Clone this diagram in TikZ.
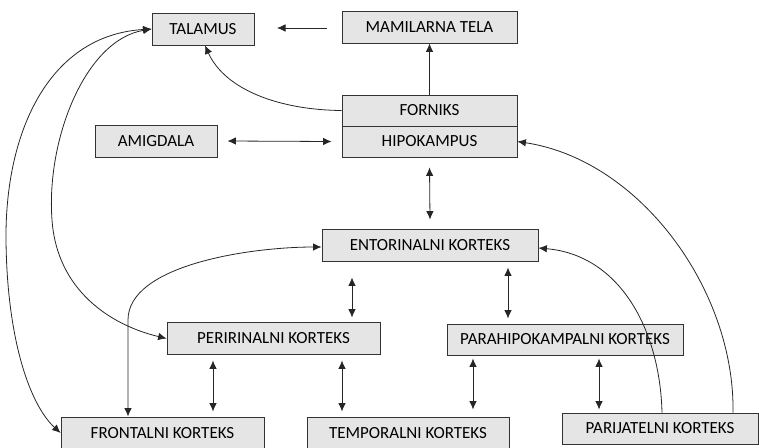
\documentclass[tikz,border=0pt]{standalone}
\usepackage{fontspec}
\setmainfont{Carlito}
\usetikzlibrary{arrows.meta}
\begin{document}
\begin{tikzpicture}[x=1pt,y=-1pt,
  box/.style={draw=black!80, fill=black!10, line width=0.8pt, minimum height=32pt, inner sep=0pt, font=\fontsize{17}{19}\selectfont},
  conn/.style={line width=0.8pt, draw=black!85},
  tip/.style={-{Latex[length=8.5pt,width=7.5pt]}},
  btip/.style={{Latex[length=8.5pt,width=7.5pt]}-{Latex[length=8.5pt,width=7.5pt]}}]
\useasboundingbox (0,0) rectangle (759,447);
\node[box, minimum width=102pt] (tal) at (203,29) {TALAMUS};
\node[box, minimum width=175pt] (mam) at (429.5,27) {MAMILARNA TELA};
\node[box, minimum width=175pt, minimum height=31pt] (for) at (429.5,110.5) {FORNIKS};
\node[box, minimum width=175pt, minimum height=31pt] (hip) at (429.5,141.5) {HIPOKAMPUS};
\node[box, minimum width=122pt] (ami) at (156,141) {AMIGDALA};
\node[box, minimum width=216pt] (ent) at (430,245) {ENTORINALNI KORTEKS};
\node[box, minimum width=213pt] (per) at (273.5,338.5) {PERIRINALNI KORTEKS};
\node[box, minimum width=236pt, minimum height=31pt] (par) at (565,339.5) {PARAHIPOKAMPALNI KORTEKS};
\node[box, minimum width=203pt] (fro) at (162.5,433) {FRONTALNI KORTEKS};
\node[box, minimum width=202pt] (tem) at (408,433) {TEMPORALNI KORTEKS};
\node[box, minimum width=196pt, minimum height=31pt] (pje) at (660,428.5) {PARIJATELNI KORTEKS};
% straight connectors
\coordinate (m1) at (327,28);
\coordinate (m2) at (277,28);
\draw[conn,tip] (m1) -- (m2);
\draw[conn,tip] (for.north) -- (mam.south);
\draw[conn,btip] ([xshift=10pt]ami.east) -- ([xshift=-10pt]hip.west);
\draw[conn,btip] ([yshift=-10pt]hip.south) -- ([yshift=9pt]ent.north);
\draw[conn,btip] ([yshift=-16pt]ent.south -| 352,0) -- ([yshift=4.5pt]per.north -| 352,0);
\draw[conn,btip] ([yshift=-6pt]ent.south -| 508,0) -- ([yshift=5pt]par.north -| 508,0);
\draw[conn,btip] ([yshift=-5.5pt]per.south -| 213,0) -- ([yshift=5pt]fro.north -| 213,0);
\draw[conn,btip] ([yshift=-5.5pt]per.south -| 342,0) -- ([yshift=5pt]tem.north -| 342,0);
\draw[conn,btip] ([yshift=-3pt]par.south -| 473,0) -- ([yshift=7pt]tem.north -| 473,0);
\draw[conn,btip] ([yshift=-3pt]par.south -| 599,0) -- ([yshift=3pt]pje.north -| 599,0);
% curved connectors
\draw[conn,tip] (for.west) .. controls (280,110) and (225,90) .. ([xshift=2pt]tal.south);
\draw[conn,tip] (pje.north -| 733,0) .. controls (735,290) and (640,160) .. (hip.east);
\draw[conn,tip] (pje.north -| 662,0) .. controls (660,330) and (620,255) .. ([yshift=-3pt]ent.east);
\draw[conn,btip] (fro.north -| 128,0) -- (128,320) .. controls (128,265) and (250,247) .. ([yshift=-2pt]ent.west);
\draw[conn,btip] (per.west) .. controls (110,325) and (57,290) .. (52,220) .. controls (46,140) and (85,40) .. (tal.west);
\draw[conn,btip] (fro.west) .. controls (30,405) and (7,340) .. (6,240) .. controls (5,130) and (50,35) .. (tal.west);
\end{tikzpicture}
\end{document}
